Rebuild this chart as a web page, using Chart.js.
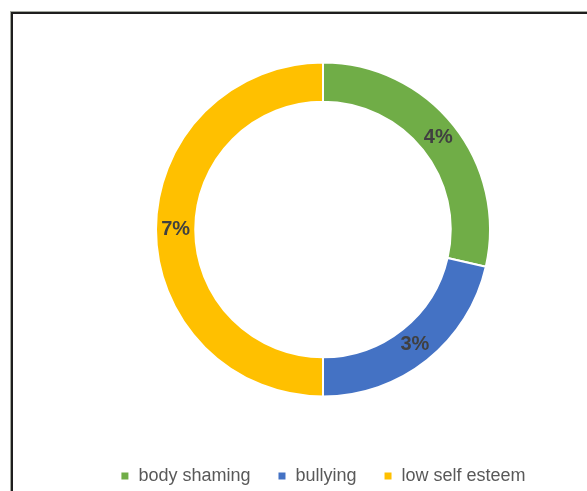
<!DOCTYPE html>
<html>
<head>
<meta charset="utf-8">
<script src="https://cdn.jsdelivr.net/npm/chart.js@4.4.0/dist/chart.umd.min.js"></script>
<style>
    html, body {
        margin: 0;
        padding: 0;
        width: 587px;
        height: 491px;
        overflow: hidden;
        background: #ffffff;
    }
    #wrap {
        position: absolute;
        left: 3px;
        top: 0;
        width: 640px;
        height: 495px;
    }
    /* frame of the chart sheet */
    #frame {
        position: absolute;
        left: 11px;
        top: 12px;
        width: 700px;
        height: 600px;
        border-left: 2px solid #1e1e1e;
        border-top: 2px solid #1e1e1e;
        box-shadow: -1px -1px 0 #a3a89f;
        pointer-events: none;
    }
</style>
</head>
<body>
<div id="wrap"><canvas id="pieChart"></canvas></div>
<div id="frame"></div>
<script>
const categories = ["body shaming", "bullying", "low self esteem"];
const percentValues = [4, 3, 7];
const sliceColors = ["#70ad47", "#4472c4", "#ffc000"];

// writes the value in the middle of each ring segment
const sliceLabels = {
    id: 'sliceLabels',
    afterDatasetsDraw(chart) {
        const ctx = chart.ctx;
        const meta = chart.getDatasetMeta(0);
        ctx.save();
        ctx.font = "bold 20px 'Liberation Sans', Arial, sans-serif";
        ctx.fillStyle = "#404040";
        ctx.textAlign = "center";
        ctx.textBaseline = "middle";
        meta.data.forEach((arc, i) => {
            const pos = arc.tooltipPosition();
            ctx.fillText(percentValues[i] + "%", pos.x, pos.y);
        });
        ctx.restore();
    }
};

const ctx = document.getElementById("pieChart").getContext("2d");
new Chart(ctx, {
    type: "doughnut",
    data: {
        labels: categories,
        datasets: [{
            data: percentValues,
            backgroundColor: sliceColors,
            borderColor: "#ffffff",
            borderWidth: 2
        }]
    },
    options: {
        responsive: true,
        maintainAspectRatio: false,
        animation: false,
        radius: 167,
        cutout: "76.5%",
        layout: {
            padding: { top: 19, bottom: 0 }
        },
        plugins: {
            tooltip: { enabled: false },
            legend: {
                position: "bottom",
                labels: {
                    boxWidth: 9,
                    boxHeight: 9,
                    padding: 27,
                    color: "#595959",
                    font: { family: "'Liberation Sans', Arial, sans-serif", size: 18 }
                }
            }
        }
    },
    plugins: [sliceLabels]
});
</script>
</body>
</html>
